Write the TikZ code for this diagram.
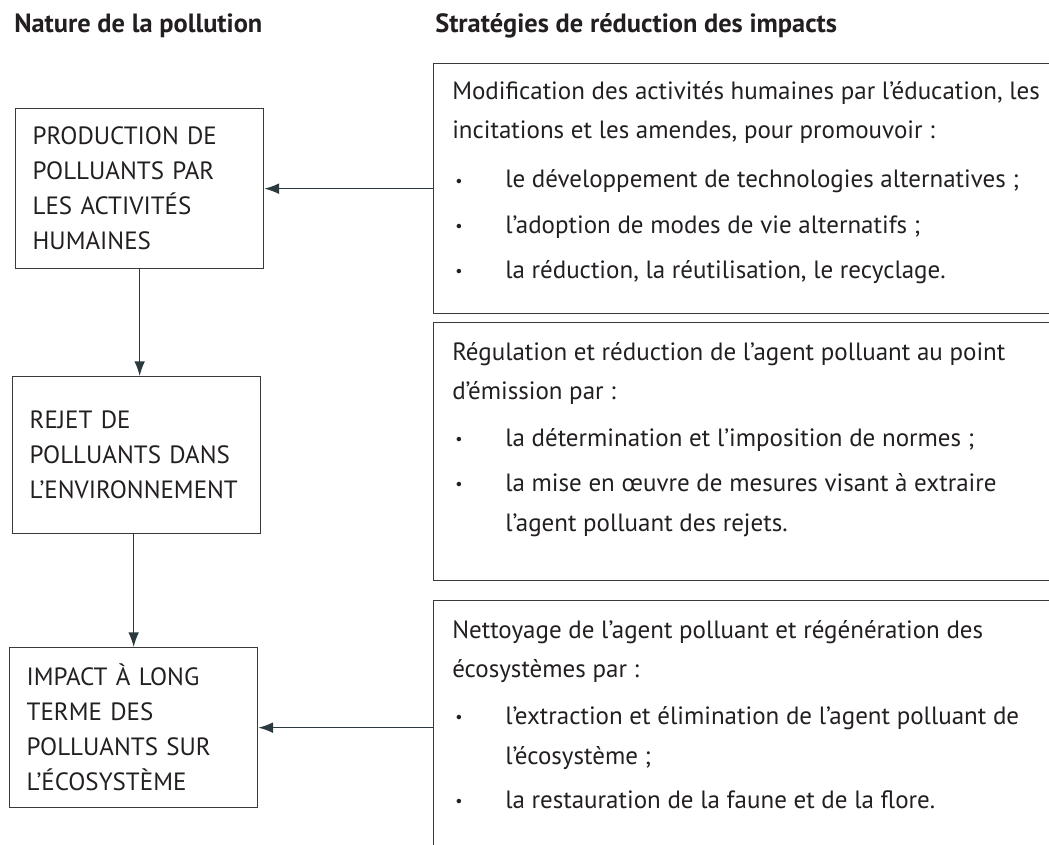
\documentclass[tikz,border=0pt]{standalone}
\usepackage{fontspec}
\setmainfont{PT Sans}
\usetikzlibrary{arrows.meta}
\definecolor{encre}{HTML}{231F20}
\definecolor{trait}{HTML}{3A3A3A}
\definecolor{fl}{HTML}{2B3A3E}
\newcommand\puce{\makebox[37.5pt][l]{\fontsize{12}{12}\selectfont\raisebox{1.5pt}{\textbullet}}}

\begin{document}
\begin{tikzpicture}[
      x=.75pt, y=-.75pt,
      every node/.style={text=encre, font=\fontsize{18.75}{26.25}\selectfont},
      ligne/.style={anchor=base west, inner sep=0pt},
      etape/.style={draw=trait, line width=1pt, anchor=north west,
        minimum width=186pt, text width=160.5pt, inner xsep=12.75pt, align=left},
      strat/.style={draw=trait, line width=1pt, anchor=north west,
        minimum width=470pt},
      fleche/.style={draw=fl, line width=1pt, -{Latex[length=11pt,width=8pt]}}]
        \useasboundingbox (0,0) rectangle (1049,845);
        \clip (0,0) rectangle (1049,845);

        {\bfseries
        \node[ligne, font=\fontsize{19.8}{24}\selectfont\bfseries] (titre1) at (14,33) {Nature de la pollution};
        \node[ligne, font=\fontsize{19.8}{24}\selectfont\bfseries] (titre2) at (435,33) {Stratégies de réduction des impacts};
        }

        % nature de la pollution
        \node[etape, minimum height=120pt] (prod) at (15,108)
          {PRODUCTION DE\\POLLUANTS PAR\\LES ACTIVITÉS\\HUMAINES};
        \node[etape, minimum height=117.75pt] (rejet) at (12,376)
          {REJET DE\\POLLUANTS DANS\\L’ENVIRONNEMENT};
        \node[etape, minimum height=120pt] (impact) at (9,647)
          {IMPACT À LONG\\TERME DES\\POLLUANTS SUR\\L’ÉCOSYSTÈME};

        \draw[fleche] (prod.south) -- (prod.south |- rejet.north);
        \draw[fleche] (rejet.south -| impact.north) -- (impact.north);

        % strategies
        \node[strat, minimum height=187.5pt] (mod) at (433,63) {};
        \node[strat, minimum height=193.5pt] (reg) at (433,322) {};
        \node[strat, minimum height=195pt] (net) at (433,600) {};

        % 1
        \node[ligne] (mod1) at (452,100) {Modification des activités humaines par l’éducation, les};
        \node[ligne] (mod2) at (452,139) {incitations et les amendes, pour promouvoir :};
        \node[ligne] (mod3) at (455,188) {\puce le développement de technologies alternatives ;};
        \node[ligne] (mod4) at (455,233) {\puce l’adoption de modes de vie alternatifs ;};
        \node[ligne] (mod5) at (455,278) {\puce la réduction, la réutilisation, le recyclage.};

        % 2
        \node[ligne] (reg1) at (452,360) {Régulation et réduction de l’agent polluant au point};
        \node[ligne] (reg2) at (452,399) {d’émission par :};
        \node[ligne] (reg3) at (455,446) {\puce la détermination et l’imposition de normes ;};
        \node[ligne] (reg4) at (455,491) {\puce la mise en œuvre de mesures visant à extraire};
        \node[ligne] (reg5) at (505,531) {l’agent polluant des rejets.};

        % 3
        \node[ligne] (net1) at (452,638) {Nettoyage de l’agent polluant et régénération des};
        \node[ligne] (net2) at (452,677) {écosystèmes par :};
        \node[ligne] (net3) at (455,724) {\puce l’extraction et élimination de l’agent polluant de};
        \node[ligne] (net4) at (505,764) {l’écosystème ;};
        \node[ligne] (net5) at (455,808) {\puce la restauration de la faune et de la flore.};

        \draw[fleche] (mod.west |- prod.east) -- (prod.east);
        \draw[fleche] (net.west |- impact.east) -- (impact.east);

      \end{tikzpicture}
\end{document}
